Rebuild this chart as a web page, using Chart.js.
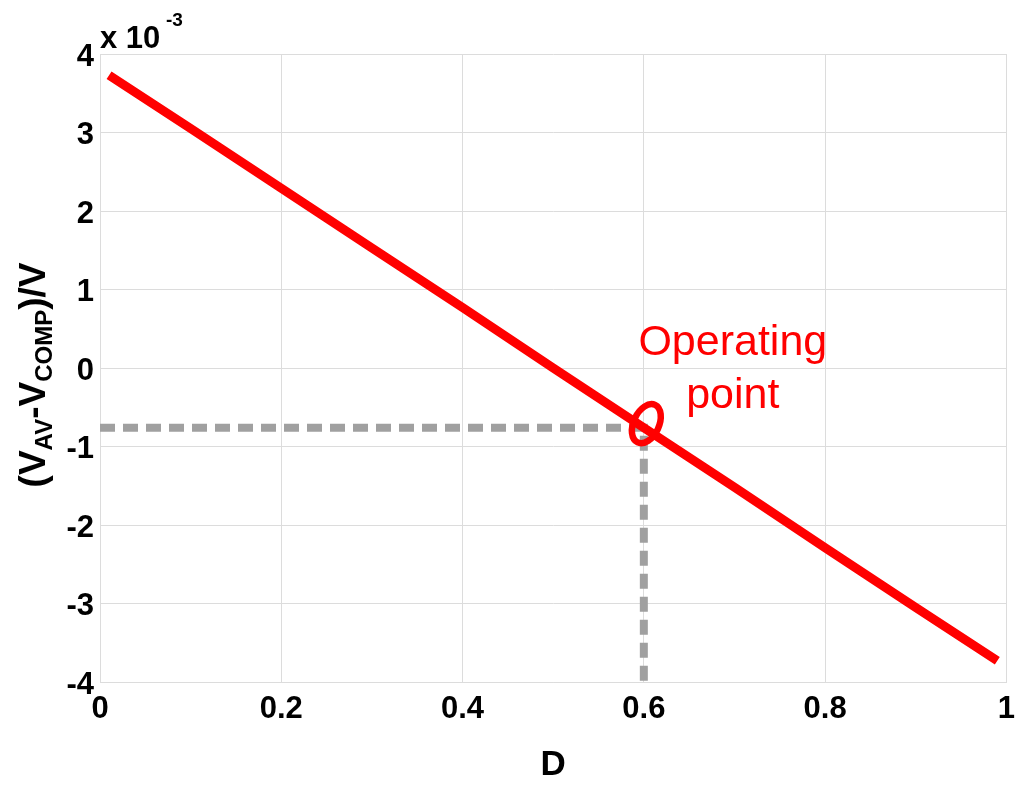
<!DOCTYPE html>
<html>
<head>
<meta charset="utf-8">
<script src="https://cdn.jsdelivr.net/npm/chart.js@4"></script>
<style>
  html, body { margin: 0; padding: 0; background: #fff; }
  #wrap { width: 1024px; height: 788px; }
</style>
</head>
<body>
<div id="wrap"><canvas id="chart" width="1024" height="788"></canvas></div>
<script>
// curve (V_AV - V_COMP)/V, in units of 1e-3
const dValues = [0.01, 0.1, 0.2, 0.3, 0.4, 0.5, 0.6, 0.7, 0.8, 0.9, 0.99];
const errValues = [3.73, 3.05, 2.29, 1.53, 0.77, 0.0, -0.76, -1.52, -2.29, -3.05, -3.73];

// operating point and its guide lines
const opD = 0.6;
const opErr = -0.76;
const guideD = [0, opD, opD];
const guideErr = [opErr, opErr, -4];

const xTicks = [0, 0.2, 0.4, 0.6, 0.8, 1];
const yTicks = [-4, -3, -2, -1, 0, 1, 2, 3, 4];

const FONT = "'Liberation Sans', Arial, sans-serif";

const extras = {
    id: 'extras',
    afterDatasetsDraw(chart) {
        const ctx = chart.ctx;
        const xs = chart.scales.x, ys = chart.scales.y;
        const cx = xs.getPixelForValue(opD), cy = ys.getPixelForValue(opErr);

        // ring round the operating point
        ctx.save();
        ctx.strokeStyle = '#ff0000';
        ctx.lineWidth = 6.5;
        ctx.beginPath();
        ctx.ellipse(cx + 2.5, cy - 4, 12.7, 20.7, 25 * Math.PI / 180, 0, 2 * Math.PI);
        ctx.stroke();

        ctx.fillStyle = '#ff0000';
        ctx.font = '43px ' + FONT;
        ctx.textAlign = 'center';
        ctx.textBaseline = 'alphabetic';
        ctx.fillText('Operating', cx + 89, cy - 73);
        ctx.fillText('point', cx + 89, cy - 20);
        ctx.restore();
    },
    afterDraw(chart) {
        const ctx = chart.ctx;
        const area = chart.chartArea;
        ctx.save();
        ctx.fillStyle = '#000';
        ctx.textBaseline = 'alphabetic';
        ctx.textAlign = 'left';

        // exponent above the y axis
        ctx.font = 'bold 31px ' + FONT;
        ctx.fillText('x 10', area.left, 48);
        ctx.font = 'bold 19px ' + FONT;
        ctx.fillText('-3', area.left + 66, 26);

        // x title
        ctx.textAlign = 'center';
        ctx.font = 'bold 35px ' + FONT;
        ctx.fillText('D', (area.left + area.right) / 2, 775);

        // y title with subscripts, rotated
        const parts = [
            ['(V', 37, 0], ['AV', 24, 0], ['-V', 37, 0], ['COMP', 24, 0], [')/V', 37, 0]
        ];
        ctx.translate(45, (area.top + area.bottom) / 2 + 7);
        ctx.rotate(-Math.PI / 2);
        let total = 0;
        parts.forEach(p => { ctx.font = 'bold ' + p[1] + 'px ' + FONT; p[2] = ctx.measureText(p[0]).width; total += p[2]; });
        let x = -total / 2;
        ctx.textAlign = 'left';
        parts.forEach(p => {
            ctx.font = 'bold ' + p[1] + 'px ' + FONT;
            ctx.fillText(p[0], x, p[1] === 37 ? 0 : 7);
            x += p[2];
        });
        ctx.restore();
    }
};

new Chart(document.getElementById('chart'), {
    type: 'line',
    data: {
        datasets: [
            {
                data: dValues.map((d, i) => ({ x: d, y: errValues[i] })),
                borderColor: '#ff0000',
                borderWidth: 9,
                borderCapStyle: 'butt',
                pointRadius: 0,
                tension: 0,
                order: 1
            },
            {
                data: guideD.map((d, i) => ({ x: d, y: guideErr[i] })),
                borderColor: '#a0a0a0',
                borderWidth: 8,
                borderDash: [15, 8],
                borderCapStyle: 'butt',
                pointRadius: 0,
                tension: 0,
                order: 2
            }
        ]
    },
    options: {
        responsive: false,
        animation: false,
        layout: { padding: { top: 54, right: 17, left: 0, bottom: 0 } },
        plugins: {
            legend: { display: false },
            tooltip: { enabled: false }
        },
        scales: {
            x: {
                type: 'linear',
                min: 0, max: 1,
                afterBuildTicks: s => { s.ticks = xTicks.map(v => ({ value: v })); },
                afterFit: s => { s.height = 106; },
                grid: { color: '#dcdcdc', lineWidth: 1, tickLength: 0 },
                border: { color: '#dcdcdc' },
                ticks: {
                    color: '#000',
                    padding: 9,
                    maxRotation: 0,
                    font: { family: FONT, size: 31, weight: 'bold' },
                    callback: v => String(v)
                }
            },
            y: {
                type: 'linear',
                min: -4, max: 4,
                afterBuildTicks: s => { s.ticks = yTicks.map(v => ({ value: v })); },
                afterFit: s => { s.width = 100; },
                grid: { color: '#dcdcdc', lineWidth: 1, tickLength: 0 },
                border: { color: '#dcdcdc' },
                ticks: {
                    color: '#000',
                    padding: 6,
                    labelOffset: 3,
                    font: { family: FONT, size: 31, weight: 'bold' },
                    callback: v => String(v)
                }
            }
        }
    },
    plugins: [extras]
});
</script>
</body>
</html>
